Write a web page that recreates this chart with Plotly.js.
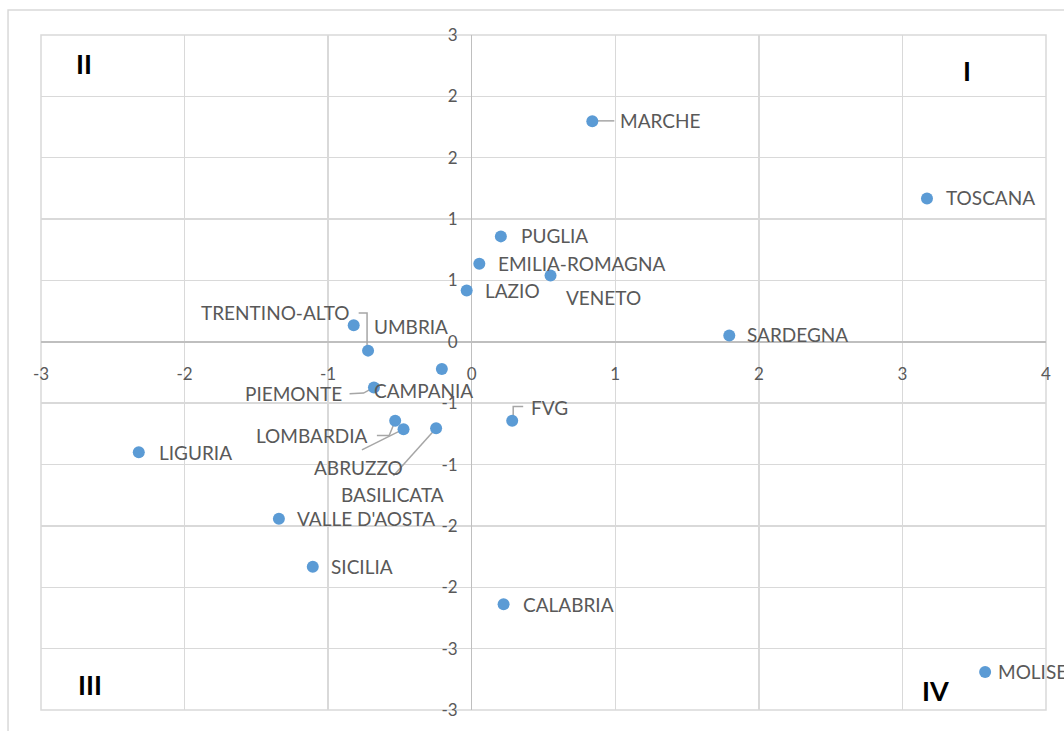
<!DOCTYPE html>
<html>
<head>
<meta charset="utf-8">
<script src="https://cdn.plot.ly/plotly-3.0.1.min.js"></script>
<style>html,body{margin:0;padding:0;background:#fff;}#chart{width:1064px;height:731px;}</style>
</head>
<body>
<div id="chart"></div>
<script>
// ---- data ----
const regions = ['MARCHE','TOSCANA','PUGLIA','EMILIA-ROMAGNA','VENETO','LAZIO','UMBRIA','TRENTINO-ALTO','SARDEGNA','CAMPANIA','PIEMONTE','LOMBARDIA','ABRUZZO','BASILICATA','FVG','LIGURIA',"VALLE D'AOSTA",'SICILIA','CALABRIA','MOLISE'];
const xValues = [0.840, 3.171, 0.203, 0.053, 0.549, -0.035, -0.822, -0.722, 1.794, -0.208, -0.681, -0.533, -0.475, -0.248, 0.282, -2.319, -1.343, -1.107, 0.222, 3.576];
const yValues = [1.976, 1.284, 0.945, 0.700, 0.595, 0.460, 0.148, -0.079, 0.056, -0.243, -0.409, -0.708, -0.783, -0.774, -0.708, -0.989, -1.586, -2.017, -2.352, -2.960];
const xTickVals = [-3, -2, -1, 0, 1, 2, 3, 4];
const xTickText = ['-3', '-2', '-1', '0', '1', '2', '3', '4'];
const yTickVals = [-3.3, -2.75, -2.2, -1.65, -1.1, -0.55, 0, 0.55, 1.1, 1.65, 2.2, 2.75];
const yTickText = ['-3', '-3', '-2', '-2', '-1', '-1', '0', '1', '1', '2', '2', '3'];
const quadrantNames = ['II', 'I', 'III', 'IV'];

// ---- label placement (screen px relative to point): anchor, dx, dy ----
const labelPlacement = {
  'MARCHE': ['left', 28, 0], 'TOSCANA': ['left', 19, 0], 'PUGLIA': ['left', 20, 0],
  'EMILIA-ROMAGNA': ['left', 19, 0.5], 'VENETO': ['left', 15, 23], 'LAZIO': ['left', 18.6, 1],
  'UMBRIA': ['left', 20, 2.6], 'TRENTINO-ALTO': ['right', -17.7, -36.7], 'SARDEGNA': ['left', 18, 0],
  'CAMPANIA': ['left', -67.7, 23], 'PIEMONTE': ['right', -32, 6.6], 'LOMBARDIA': ['right', -26.7, 15.7],
  'ABRUZZO': ['right', -0.6, 39.7], 'BASILICATA': ['left', -95.3, 67.4], 'FVG': ['left', 18.7, -12.7],
  'LIGURIA': ['left', 20, 1], "VALLE D'AOSTA": ['left', 18.4, 0.6], 'SICILIA': ['left', 18.4, 0.3],
  'CALABRIA': ['left', 19.6, 1], 'MOLISE': ['left', 13.3, 0]
};
// leader lines: polyline in screen px offsets relative to point
const leaderLines = {
  'MARCHE': [[0, -0.5], [22, -0.5]],
  'TRENTINO-ALTO': [[-9.4, -37.7], [-1, -37.7], [-1, 0]],
  'PIEMONTE': [[-24.4, 6.3], [-10.4, 5.6], [0, 0]],
  'LOMBARDIA': [[-18.3, 14.7], [-6, 14.7], [0, 0]],
  'ABRUZZO': [[-41.6, 20.7], [0, 0]],
  'BASILICATA': [[-42.7, 47.7], [0, 0]],
  'FVG': [[1, 0], [1, -14.3], [11, -14.3]]
};
const quadrantPos = [[0.0425, 0.9575], [0.9214, 0.9471], [0.0491, 0.0385], [0.8896, 0.0296]];

const labelFont = {family: 'Lato, "Open Sans", sans-serif', size: 19, color: '#595959'};
const annotations = [];
regions.forEach((r, i) => {
  const p = labelPlacement[r];
  annotations.push({
    x: xValues[i], y: yValues[i], xref: 'x', yref: 'y', text: r, showarrow: false,
    xanchor: p[0], yanchor: 'middle', xshift: p[0] === 'left' ? p[1] - 2 : p[1] + 2, yshift: -p[2] + 1,
    font: labelFont
  });
});
quadrantNames.forEach((q, i) => {
  annotations.push({
    x: quadrantPos[i][0], y: quadrantPos[i][1], xref: 'paper', yref: 'paper', text: '<b>' + q + '</b>',
    showarrow: false, xanchor: 'center', yanchor: 'middle',
    font: {family: 'Lato, "Open Sans", sans-serif', size: 27, color: '#000000'}
  });
});

const shapes = [];
// outer chart border
shapes.push({type: 'rect', xref: 'paper', yref: 'paper', x0: -0.0328, x1: 1.2, y0: -0.2, y1: 1.037,
  line: {color: '#d9d9d9', width: 1.5}, fillcolor: 'rgba(0,0,0,0)', layer: 'below'});
// plot area border
shapes.push({type: 'rect', xref: 'paper', yref: 'paper', x0: 0, x1: 1, y0: 0, y1: 1,
  line: {color: '#d9d9d9', width: 1.5}, fillcolor: 'rgba(0,0,0,0)', layer: 'below'});
Object.keys(leaderLines).forEach(r => {
  const i = regions.indexOf(r);
  const pts = leaderLines[r];
  const path = pts.map((pt, k) => (k === 0 ? 'M' : 'L') + pt[0] + ',' + (-pt[1])).join(' ');
  shapes.push({type: 'path', xref: 'x', yref: 'y', xsizemode: 'pixel', ysizemode: 'pixel',
    xanchor: xValues[i], yanchor: yValues[i], path: path,
    line: {color: '#a6a6a6', width: 1.5}, layer: 'between'});
});

const trace = {
  type: 'scatter', mode: 'markers', x: xValues, y: yValues, text: regions,
  marker: {size: 12, color: '#5b9bd5'}, hoverinfo: 'text', cliponaxis: false
};

const tickFont = {family: 'Lato, "Open Sans", sans-serif', size: 17, color: '#595959'};
const layout = {
  width: 1064, height: 731,
  margin: {l: 41, r: 18, t: 35, b: 21, pad: 0},
  paper_bgcolor: '#ffffff', plot_bgcolor: '#ffffff',
  showlegend: false,
  xaxis: {
    range: [-3, 4], tickmode: 'array', tickvals: xTickVals, ticktext: xTickText,
    anchor: 'free', position: 3.3 / 6.05, side: 'bottom',
    showgrid: true, gridcolor: '#d9d9d9', gridwidth: 1.5,
    zeroline: true, zerolinecolor: '#bfbfbf', zerolinewidth: 1.5,
    showline: false, ticks: '', ticklabelstandoff: 20, tickfont: tickFont, fixedrange: true
  },
  yaxis: {
    range: [-3.3, 2.75], tickmode: 'array', tickvals: yTickVals, ticktext: yTickText,
    anchor: 'free', position: 3 / 7, side: 'left',
    showgrid: true, gridcolor: '#d9d9d9', gridwidth: 1.5,
    zeroline: true, zerolinecolor: '#bfbfbf', zerolinewidth: 1.5,
    showline: false, ticks: '', ticklabelstandoff: 14, tickfont: tickFont, fixedrange: true
  },
  annotations: annotations,
  shapes: shapes
};

Plotly.newPlot('chart', [trace], layout, {displayModeBar: false, staticPlot: true});
</script>
</body>
</html>
